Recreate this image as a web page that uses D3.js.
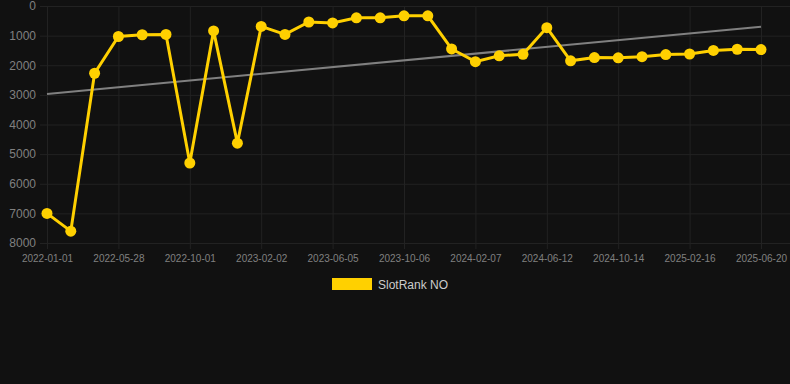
<!DOCTYPE html>
<html>
<head>
<meta charset="utf-8">
<script src="https://cdn.jsdelivr.net/npm/d3@7"></script>
<style>
	html, body { margin: 0; padding: 0; background: #111111; }
	svg { display: block; }
</style>
</head>
<body>
<svg id="chart"></svg>
<script>
// rank values, one per sample (lower = better, axis is reversed)
const ranks = [7000, 7600, 2270, 1030, 970, 960, 5300, 840, 4630, 690,
	960, 540, 570, 400, 400, 330, 330, 1450, 1880, 1680,
	1630, 730, 1850, 1740, 1750, 1710, 1640, 1620, 1500, 1460, 1470];
// dates shown under every third sample
const tick_labels = ["2022-01-01", "2022-05-28", "2022-10-01", "2023-02-02", "2023-06-05",
	"2023-10-06", "2024-02-07", "2024-06-12", "2024-10-14", "2025-02-16", "2025-06-20"];
const y_ticks = [0, 1000, 2000, 3000, 4000, 5000, 6000, 7000, 8000];
// trend line start / end values
const trend = [2970, 700];
const series_name = "SlotRank NO";

const params = {
	width: 790,
	height: 384,
	left: 40,
	right: 790,
	top: 6,
	bottom: 243,
	x0: 47,
	x1: 761,
	line_color: "#ffd000",
	trend_color: "#808080",
	grid_color: "#222222",
	text_color: "#808080"
};

const svg = d3.select("#chart")
	.attr("width", params.width)
	.attr("height", params.height)
	.style("font-family", "'Liberation Sans', Arial, sans-serif");

const idx = d3.range(ranks.length);
const x = d3.scalePoint().domain(idx).range([params.x0, params.x1]),
	y = d3.scaleLinear().domain([0, 8000]).range([params.top, params.bottom]);
const tick_idx = idx.filter(i => i % 3 == 0);

// horizontal grid + y labels
const yAxis = svg.append("g")
	.attr("transform", `translate(${params.left},0)`)
	.call(d3.axisLeft(y).tickValues(y_ticks).tickFormat(d3.format("d"))
		.tickSize(-(params.right - params.left)).tickPadding(4));
yAxis.select(".domain").remove();
yAxis.selectAll("line").attr("stroke", params.grid_color);
yAxis.selectAll("text").attr("fill", params.text_color).style("font-size", "12px");

// vertical grid + x labels
const xAxis = svg.append("g")
	.attr("transform", `translate(0,${params.bottom})`)
	.call(d3.axisBottom(x).tickValues(tick_idx)
		.tickFormat(i => tick_labels[i / 3])
		.tickSizeOuter(0)
		.tickPadding(6));
xAxis.select(".domain").remove();
xAxis.selectAll("line")
	.attr("stroke", params.grid_color)
	.attr("y1", -(params.bottom - params.top))
	.attr("y2", 6);
xAxis.selectAll("text").attr("fill", params.text_color).style("font-size", "10px");

// trend
svg.append("line")
	.attr("x1", x(0)).attr("y1", y(trend[0]))
	.attr("x2", x(ranks.length - 1)).attr("y2", y(trend[1]))
	.attr("stroke", params.trend_color)
	.attr("stroke-width", 2);

// main line
svg.append("path")
	.datum(ranks)
	.attr("fill", "none")
	.attr("stroke", params.line_color)
	.attr("stroke-width", 3)
	.attr("stroke-linejoin", "miter")
	.attr("d", d3.line().x((d, i) => x(i)).y(d => y(d)));

svg.append("g").selectAll("circle")
	.data(ranks)
	.join("circle")
	.attr("cx", (d, i) => x(i))
	.attr("cy", d => y(d))
	.attr("r", 5.5)
	.attr("fill", params.line_color);

// legend
const legend = svg.append("g").attr("transform", "translate(332,278)");
legend.append("rect")
	.attr("width", 40).attr("height", 12)
	.attr("fill", params.line_color);
legend.append("text")
	.attr("x", 46).attr("y", 10.5)
	.attr("fill", "#cccccc")
	.style("font-size", "12px")
	.text(series_name);
</script>
</body>
</html>
